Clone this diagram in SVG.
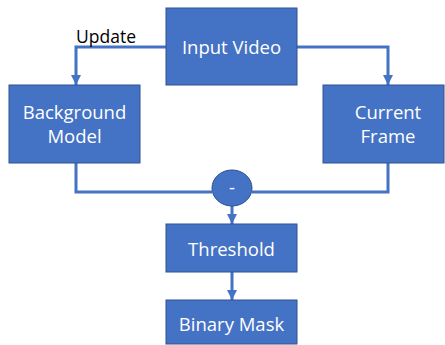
<svg xmlns="http://www.w3.org/2000/svg" width="445" height="345" viewBox="0 0 445 345">
<defs>
<style>
.box{fill:#4472C4;stroke:#2F528F;stroke-width:1}
.lbl{font-family:"Open Sans","Liberation Sans",sans-serif;font-size:18.5px;fill:#fff;text-anchor:middle}
.wire{fill:none;stroke:#4472C4;stroke-width:3}
</style>
<marker id="ah" viewBox="0 0 10 10" refX="10" refY="5" markerWidth="3.4" markerHeight="3.4" orient="auto" markerUnits="strokeWidth">
<path d="M0,0 L10,5 L0,10 Z" fill="#4472C4"/>
</marker>
</defs>
<rect width="445" height="345" fill="#fff"/>
<g id="connectors">
<path class="wire" d="M166,47 H76 V85" marker-end="url(#ah)"/>
<path class="wire" d="M297,47 H388 V85" marker-end="url(#ah)"/>
<path class="wire" d="M76,163 V192 H212"/>
<path class="wire" d="M388,163 V192 H252"/>
<path class="wire" d="M232,206 V224" marker-end="url(#ah)"/>
<path class="wire" d="M232,272 V300" marker-end="url(#ah)"/>
<text x="76" y="43" font-family="'Open Sans','Liberation Sans',sans-serif" font-size="17.5" fill="#000">Update</text>
</g>
<g id="input-video">
<rect class="box" x="166" y="8" width="131" height="77"/>
<text class="lbl" x="231.5" y="54">Input Video</text>
</g>
<g id="background-model">
<rect class="box" x="9" y="85" width="131" height="78"/>
<text class="lbl" x="74.5" y="119">Background</text>
<text class="lbl" x="74.5" y="143">Model</text>
</g>
<g id="current-frame">
<rect class="box" x="323" y="85" width="121" height="78"/>
<text class="lbl" x="388" y="119">Current</text>
<text class="lbl" x="388" y="143">Frame</text>
</g>
<g id="minus">
<ellipse class="box" cx="232" cy="188" rx="20" ry="18"/>
<text class="lbl" x="232" y="194">-</text>
</g>
<g id="threshold">
<rect class="box" x="166" y="224" width="131" height="48"/>
<text class="lbl" x="231.5" y="256">Threshold</text>
</g>
<g id="binary-mask">
<rect class="box" x="166" y="300" width="131" height="44"/>
<text class="lbl" x="231.5" y="331">Binary Mask</text>
</g>
</svg>
